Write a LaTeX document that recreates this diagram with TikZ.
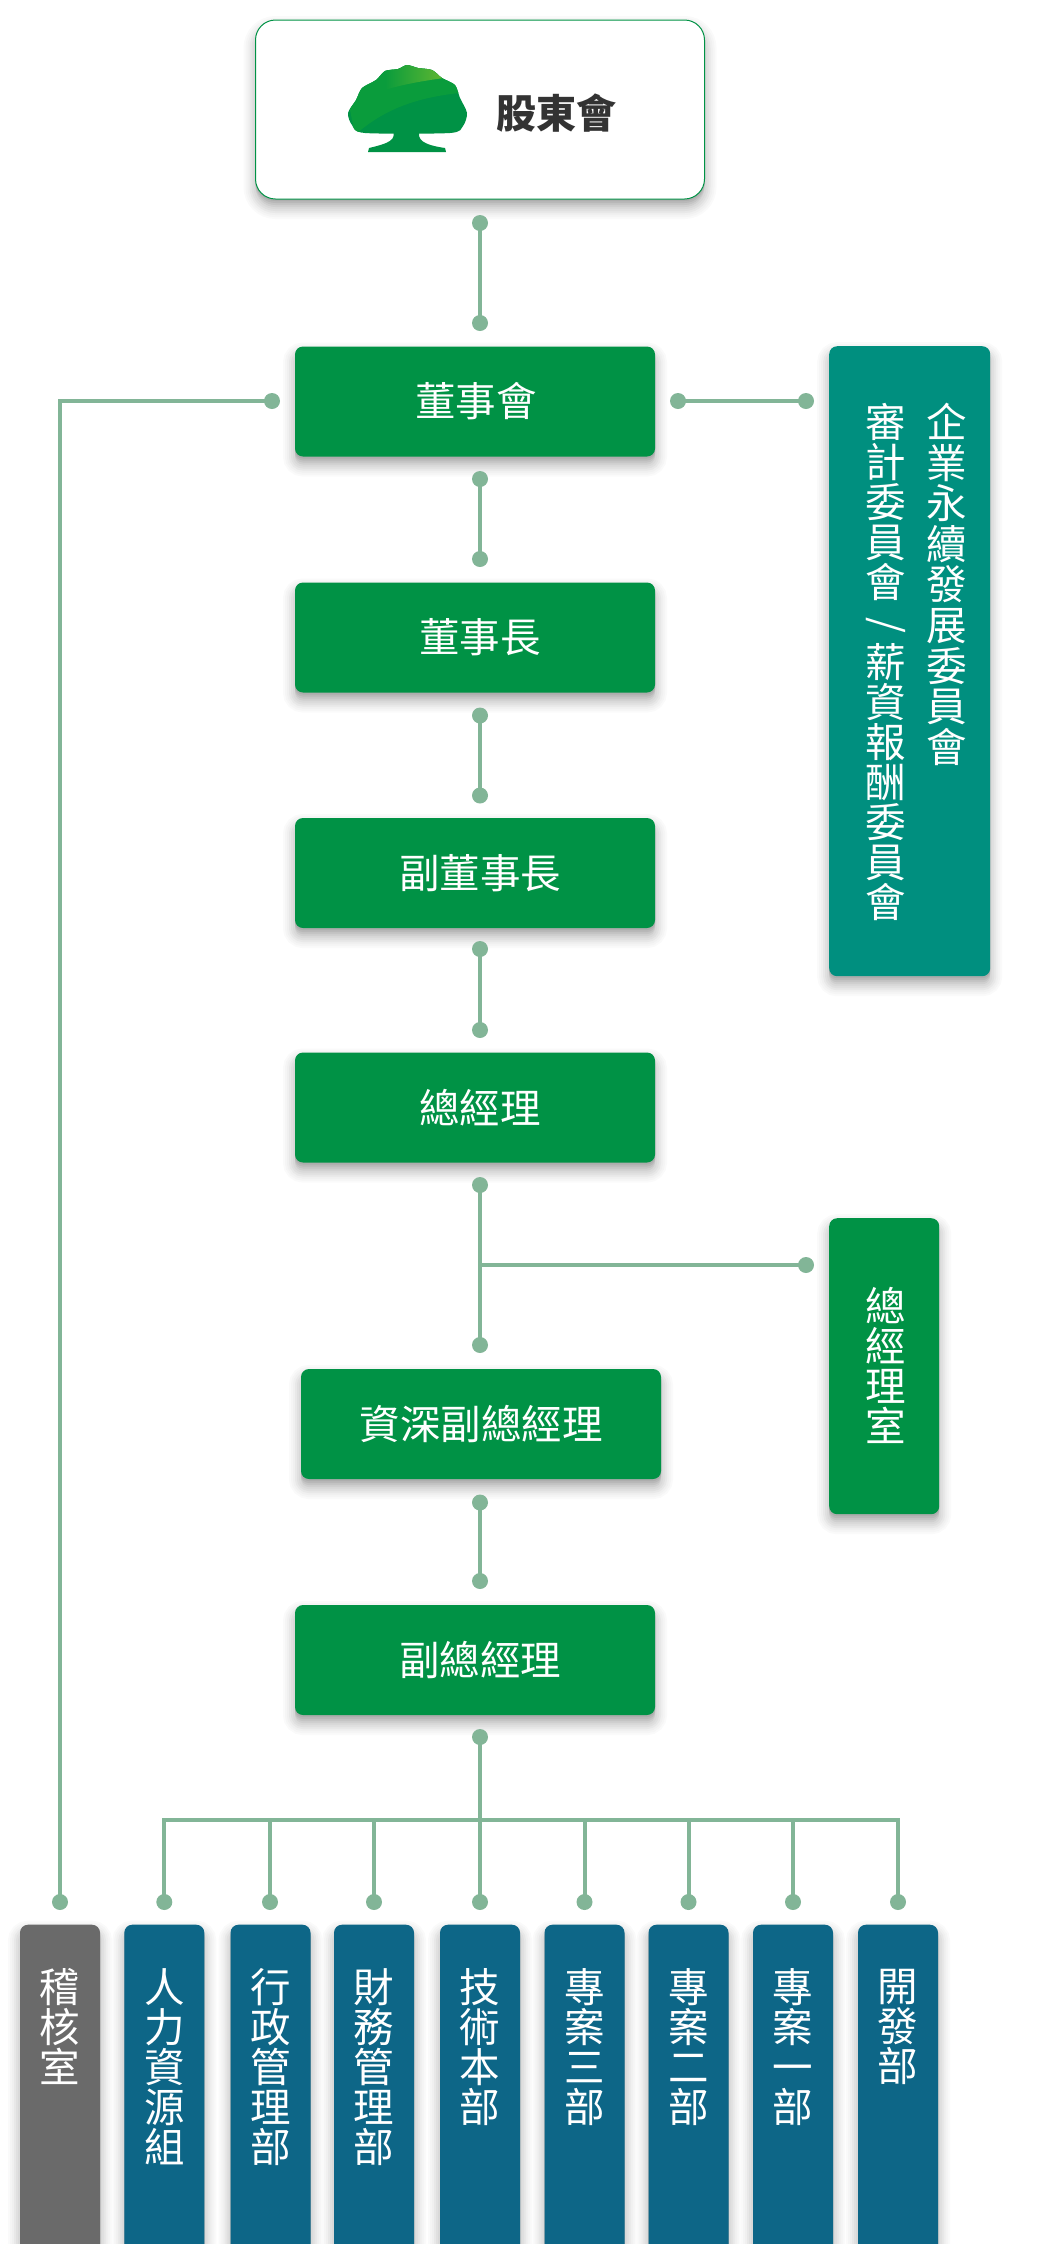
\documentclass[tikz,border=0pt]{standalone}
\usepackage{fontspec}
\setmainfont{Noto Sans CJK TC}
\usetikzlibrary{positioning,shadows,calc}
\definecolor{boardgreen}{HTML}{009245}
\definecolor{midgreen}{HTML}{0A9C3C}
\definecolor{leafgreen}{HTML}{78BE2E}
\definecolor{linkgreen}{HTML}{82B597}
\definecolor{teambox}{HTML}{008F7F}
\definecolor{deptblue}{HTML}{0D6687}
\definecolor{auditgray}{HTML}{6A6A6A}
\definecolor{inkgray}{HTML}{333333}

\begin{document}
\begin{tikzpicture}[
    x=1pt, y=-1pt,
    softshadow/.style={
        general shadow={shadow yshift=-8pt, draw=black!2, fill=black!2, line width=24pt},
        general shadow={shadow yshift=-8pt, draw=black!4, fill=black!4, line width=20pt},
        general shadow={shadow yshift=-8pt, draw=black!6, fill=black!6, line width=16pt},
        general shadow={shadow yshift=-8pt, draw=black!9, fill=black!9, line width=12pt},
        general shadow={shadow yshift=-8pt, draw=black!12, fill=black!12, line width=8pt},
        general shadow={shadow yshift=-8pt, draw=black!15, fill=black!15, line width=4pt},
        general shadow={shadow yshift=-8pt, fill=black!19},
        general shadow={shadow yshift=-6pt, fill=black!23},
        general shadow={shadow yshift=-4pt, fill=black!28},
        general shadow={shadow yshift=-2pt, fill=black!32}
    },
    box/.style={rectangle, rounded corners=8pt, inner sep=0pt, softshadow},
    greenbox/.style={box, fill=boardgreen, text=white, minimum width=360pt, minimum height=110pt,
        font=\fontsize{40.5}{40}\selectfont},
    sidebox/.style={box, anchor=north west, minimum height=110pt},
    deptbox/.style={box, fill=deptblue, anchor=north, minimum width=80pt, minimum height=400pt},
    vlabel/.style={text=white, align=center, inner sep=0pt, anchor=north, font=\fontsize{40.5}{40}\selectfont},
    dot/.style={circle, fill=linkgreen, minimum size=16pt, inner sep=0pt},
    link/.style={draw=linkgreen, line width=4pt}
]
    \useasboundingbox (0,0) rectangle (1060,2244);
    \clip (0,0) rectangle (1060,2244);

    % top box with the tree
    \node[box, fill=white, draw=boardgreen, line width=1pt, minimum width=449pt, minimum height=179pt,
        rounded corners=20pt] (holders) at (480,109.5) {};
    \fill[boardgreen] plot[smooth cycle, tension=0.45] coordinates {(352,125) (348,113) (356,100) (362,88) (376,80) (385,71)
        (398,69) (407,65) (418,68) (432,70) (442,78) (455,85) (460,98) (467,113) (463,126) (450,133) (365,133)};
    \fill[boardgreen] (393,130) .. controls (396,140) and (390,143) .. (369,148) -- (368,152) -- (446,152) -- (445,148)
        .. controls (424,145) and (416,140) .. (420,130) -- cycle;
    \begin{scope}
        \clip plot[smooth cycle, tension=0.45] coordinates {(352,125) (348,113) (356,100) (362,88) (376,80) (385,71)
            (398,69) (407,65) (418,68) (432,70) (442,78) (455,85) (460,98) (467,113) (463,126) (450,133) (365,133)};
        \fill[midgreen] (355,135) .. controls (385,108) and (420,96) .. (470,92) -- (470,60) -- (340,60) -- cycle;
        \shade[left color=midgreen, right color=leafgreen]
            (385,90) .. controls (400,85) and (425,80) .. (460,76) -- (460,60) -- (385,60) -- cycle;
    \end{scope}
    \node[text=inkgray, inner sep=0pt, font=\fontsize{40}{40}\selectfont\bfseries] (holdersT) at (556,113) {股東會};

    % main chain
    \node[greenbox] (board) at (475,401.5) {\hspace*{2pt}董事會};
    \node[greenbox] (chair) at (475,637.5) {\hspace*{10pt}董事長};
    \node[greenbox] (vchair) at (475,873) {\hspace*{10pt}副董事長};
    \node[greenbox] (pres) at (475,1107.5) {\hspace*{10pt}總經理};
    \node[greenbox] (svp) at (481,1424) {資深副總經理};
    \node[greenbox] (vp) at (475,1660) {\hspace*{10pt}副總經理};

    % committees and office on the right
    \node[sidebox, fill=teambox, minimum width=161pt, minimum height=630pt] (cmte) at (829,346) {};
    \node[vlabel, font=\fontsize{40.5}{40.6}\selectfont] (cmteA) at (947,403) {企\\業\\永\\續\\發\\展\\委\\員\\會};
    \node[vlabel] (cmteB) at (886,403) {審\\計\\委\\員\\會\\\rotatebox[origin=c]{-90}{/}\\薪\\資\\報\\酬\\委\\員\\會};
    \node[sidebox, fill=boardgreen, minimum width=110pt, minimum height=296pt] (office) at (829,1218) {};
    \node[vlabel, below=69pt of office.north, xshift=1.5pt] (officeT) {總\\經\\理\\室};

    % departments along the bottom
    \node[deptbox, fill=auditgray] (audit) at (60,1924.5) {};
    \node[deptbox] (hr) at (164.3,1924.5) {};
    \node[deptbox] (admin) at (270.5,1924.5) {};
    \node[deptbox] (fin) at (374,1924.5) {};
    \node[deptbox] (tech) at (480,1924.5) {};
    \node[deptbox] (pj3) at (584.5,1924.5) {};
    \node[deptbox] (pj2) at (688.5,1924.5) {};
    \node[deptbox] (pj1) at (793,1924.5) {};
    \node[deptbox] (dev) at (898,1924.5) {};
    \node[vlabel, below=44pt of audit.north] (auditT) {稽\\核\\室};
    \node[vlabel, below=44pt of hr.north] (hrT) {人\\力\\資\\源\\組};
    \node[vlabel, below=44pt of admin.north] (adminT) {行\\政\\管\\理\\部};
    \node[vlabel, below=44pt of fin.north] (finT) {財\\務\\管\\理\\部};
    \node[vlabel, below=44pt of tech.north] (techT) {技\\術\\本\\部};
    \node[vlabel, below=44pt of pj3.north] (pj3T) {專\\案\\三\\部};
    \node[vlabel, below=44pt of pj2.north] (pj2T) {專\\案\\二\\部};
    \node[vlabel, below=44pt of pj1.north] (pj1T) {專\\案\\一\\部};
    \node[vlabel, below=44pt of dev.north] (devT) {開\\發\\部};

    % connector ends
    \node[dot] (a1) at (480,223) {};
    \node[dot] (a2) at (480,323) {};
    \node[dot] (b1) at (480,479) {};
    \node[dot] (b2) at (480,559) {};
    \node[dot] (c1) at (480,715.5) {};
    \node[dot] (c2) at (480,795.5) {};
    \node[dot] (d1) at (480,949) {};
    \node[dot] (d2) at (480,1030) {};
    \node[dot] (e1) at (480,1185) {};
    \node[dot] (e2) at (480,1345) {};
    \node[dot] (f1) at (480,1502.5) {};
    \node[dot] (f2) at (480,1581) {};
    \node[dot] (g1) at (480,1737) {};
    \node[dot] (toBoardL) at (272,401) {};
    \node[dot] (toAudit) at (60,1902) {};
    \node[dot] (toBoardR) at (678,401) {};
    \node[dot] (toCmte) at (806,401) {};
    \node[dot] (toOffice) at (806,1265) {};
    \node[dot] (toHr) at (164.3,1902) {};
    \node[dot] (toAdmin) at (270,1902) {};
    \node[dot] (toFin) at (374,1902) {};
    \node[dot] (toTech) at (480,1902) {};
    \node[dot] (toPj3) at (584.5,1902) {};
    \node[dot] (toPj2) at (688.5,1902) {};
    \node[dot] (toPj1) at (793,1902) {};
    \node[dot] (toDev) at (898,1902) {};
    \coordinate (bus) at (480,1820);
    \coordinate (split) at (480,1265);

    \draw[link] (a1.center) -- (a2.center);
    \draw[link] (b1.center) -- (b2.center);
    \draw[link] (c1.center) -- (c2.center);
    \draw[link] (d1.center) -- (d2.center);
    \draw[link] (e1.center) -- (e2.center);
    \draw[link] (f1.center) -- (f2.center);
    \draw[link] (split) -- (toOffice.center);
    \draw[link] (toBoardR.center) -- (toCmte.center);
    \draw[link] (toBoardL.center) -| (toAudit.center);
    \draw[link] (g1.center) -- (toTech.center);
    \draw[link] (bus) -| (toHr.center);
    \draw[link] (bus) -| (toDev.center);
    \draw[link] (toAdmin.center |- bus) -- (toAdmin.center);
    \draw[link] (toFin.center |- bus) -- (toFin.center);
    \draw[link] (toPj3.center |- bus) -- (toPj3.center);
    \draw[link] (toPj2.center |- bus) -- (toPj2.center);
    \draw[link] (toPj1.center |- bus) -- (toPj1.center);
\end{tikzpicture}
\end{document}
